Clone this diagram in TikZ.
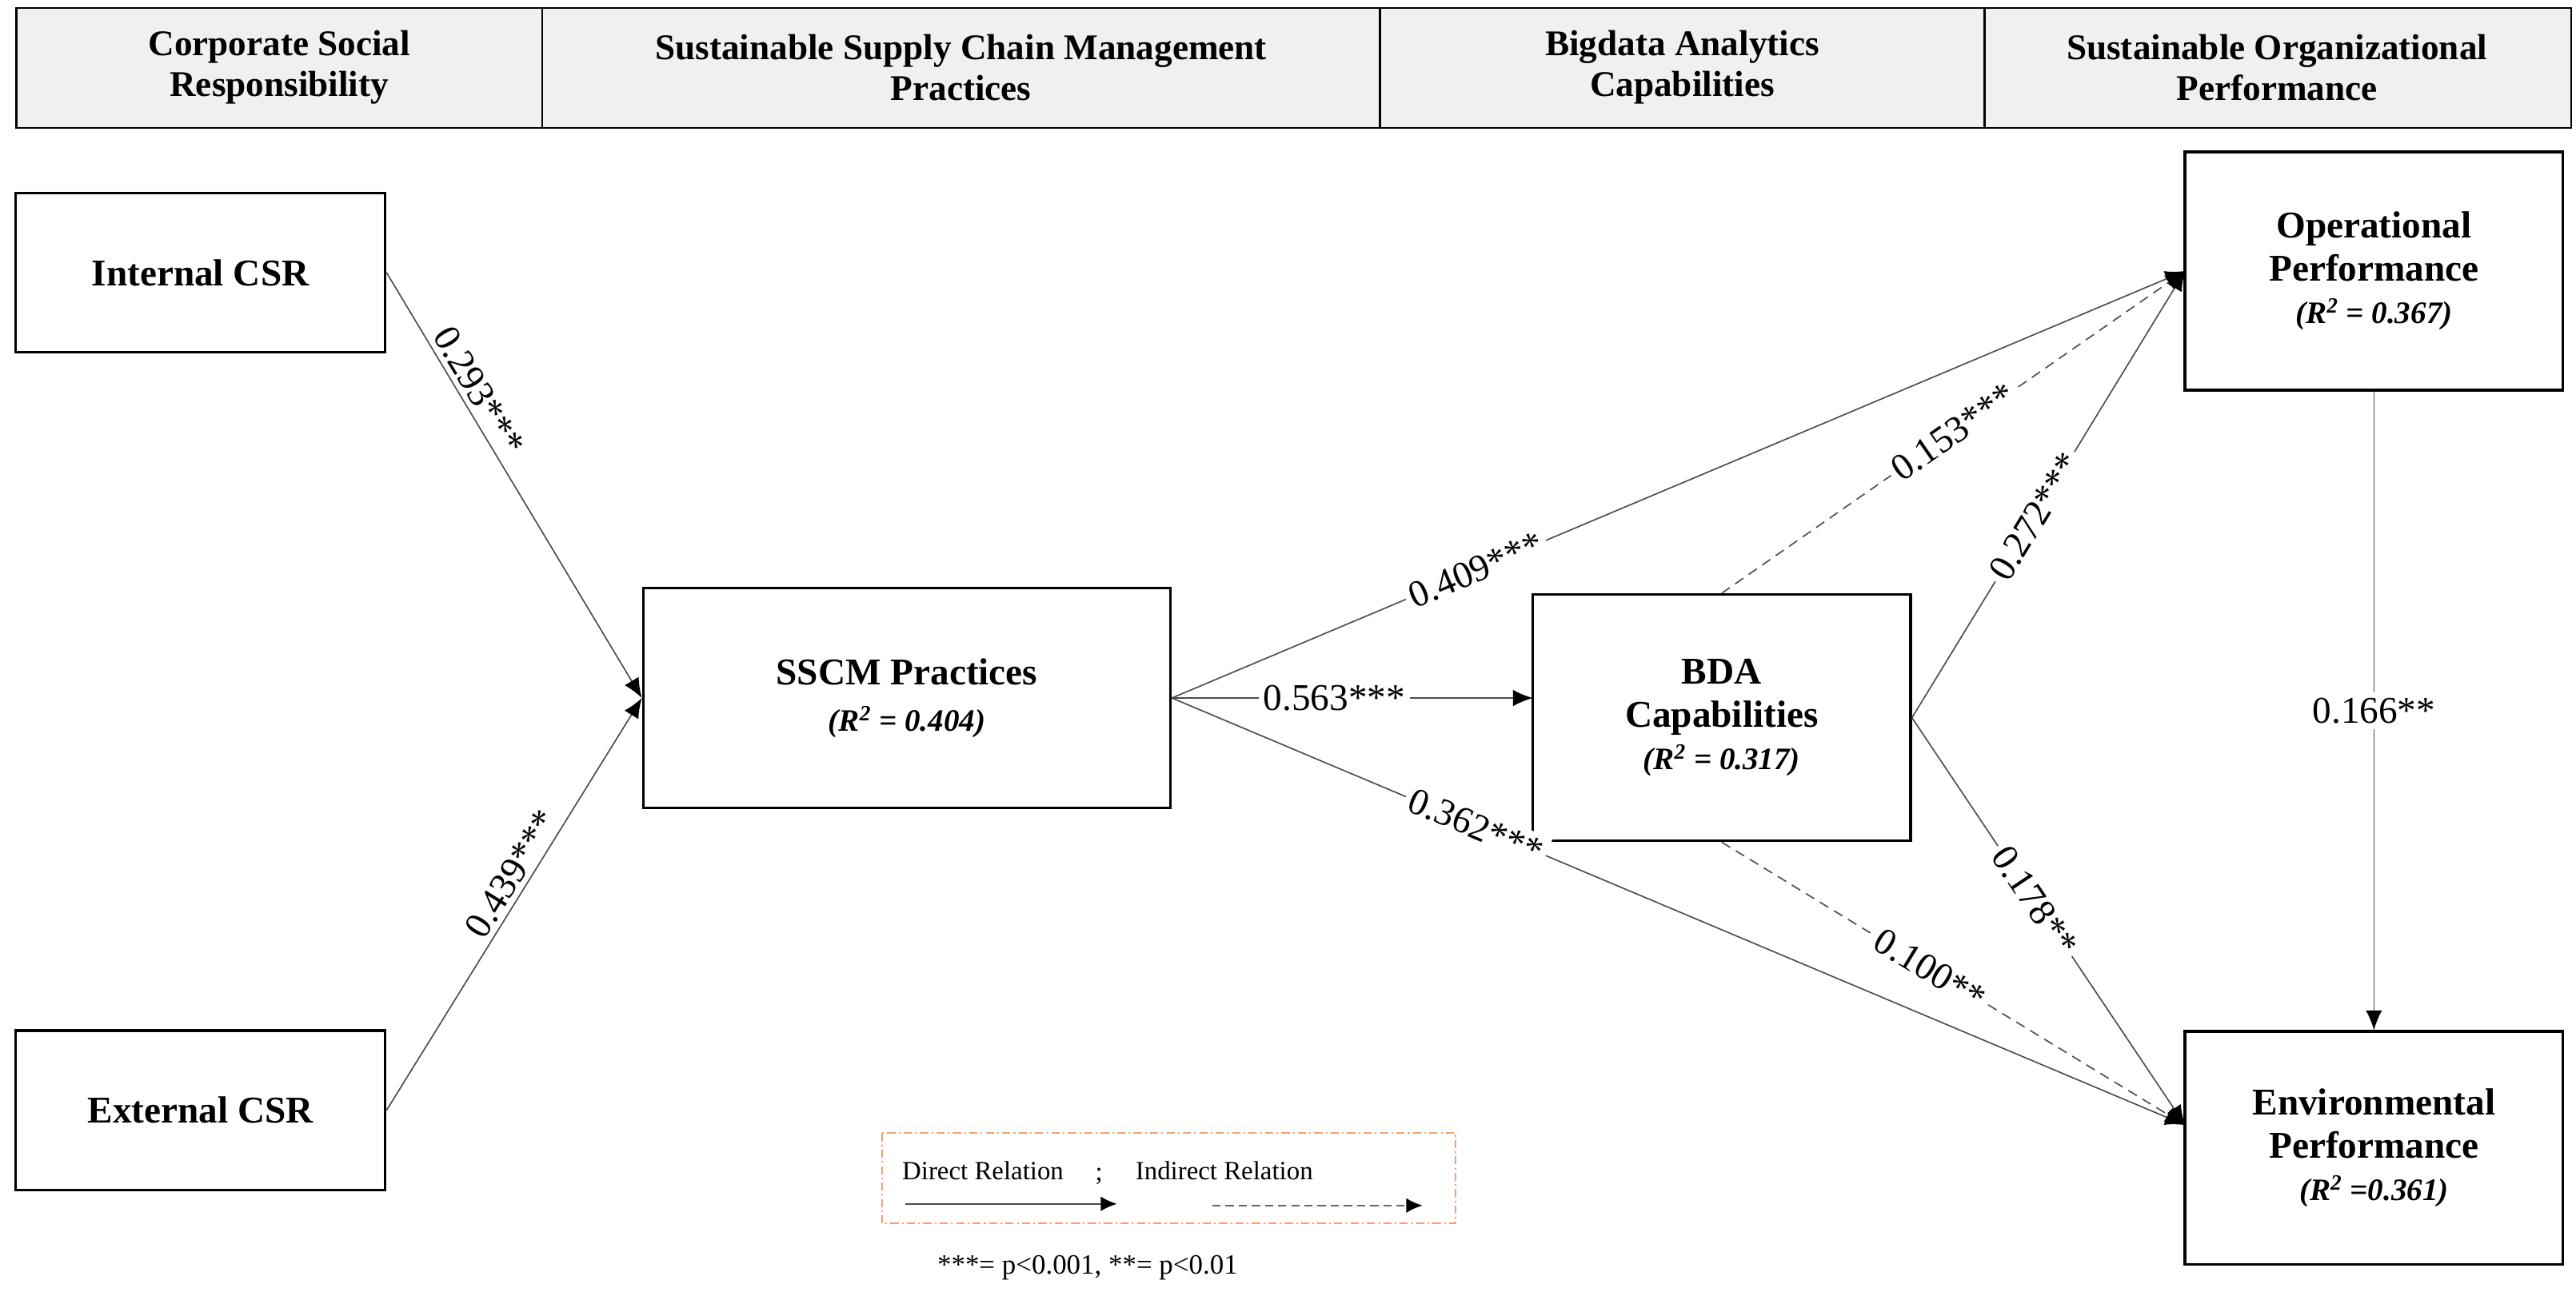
\documentclass[tikz,border=0pt]{standalone}
\usepackage{fontspec}
\setmainfont{Liberation Serif}
\usetikzlibrary{arrows.meta}
\definecolor{hdr}{HTML}{F0F0F0}
\definecolor{leg}{HTML}{F4A070}
\begin{document}
\begin{tikzpicture}[x=1pt,y=-1pt,
  box/.style={draw,line width=1.6pt,align=center,font=\fontsize{23}{26}\selectfont\bfseries,inner sep=2pt},
  arr/.style={line width=0.8pt,draw=black!70,-{Latex[length=12pt,width=10pt,black]}},
  darr/.style={arr,dash pattern=on 6pt off 4pt},
  lab/.style={sloped,fill=white,inner sep=3pt,font=\fontsize{23}{26}\selectfont},
  hd/.style={align=center,font=\fontsize{22}{25}\selectfont\bfseries}]
\useasboundingbox (0,0) rectangle (1568,789);
% header
\filldraw[fill=hdr,line width=1.2pt] (10,5) rectangle (1565,78);
\foreach \x in {330,840,1208} \draw[line width=1.2pt] (\x,5) -- (\x,78);
\node[hd] (h1) at (170,41) {Corporate Social\\Responsibility};
\node[hd] (h2) at (585,41) {Sustainable Supply Chain Management\\Practices};
\node[hd] (h3) at (1024,41) {Bigdata Analytics\\Capabilities};
\node[hd] (h4) at (1386,41) {Sustainable Organizational\\Performance};
% nodes
\node[box,minimum width=225,minimum height=97] (ic) at (122,166) {Internal CSR};
\node[box,minimum width=225,minimum height=97] (ec) at (122,676) {External CSR};
\node[box,minimum width=321,minimum height=134] (ss) at (552,425) {SSCM Practices\\[2pt]{\itshape\fontsize{19}{22}\selectfont (R\textsuperscript{2} = 0.404)}};
\node[box,minimum width=230,minimum height=150] (bd) at (1048,437) {BDA\\Capabilities\\{\itshape\fontsize{19}{22}\selectfont (R\textsuperscript{2} = 0.317)}};
\node[box,minimum width=230,minimum height=145] (op) at (1445,165) {Operational\\Performance\\{\itshape\fontsize{19}{22}\selectfont (R\textsuperscript{2} = 0.367)}};
\node[box,minimum width=230,minimum height=142] (ep) at (1445,699) {Environmental\\Performance\\{\itshape\fontsize{19}{22}\selectfont (R\textsuperscript{2} =0.361)}};
\coordinate (opw) at (1330,165);
\coordinate (epw) at (1330,685);
\coordinate (bdw) at (933,425);
% edges
\draw[arr] (ic.east) -- node[lab,above=0pt,fill=none,pos=0.3]{0.293***} (ss.west);
\draw[arr] (ec.east) -- node[lab,above=0pt,fill=none,pos=0.55]{0.439***} (ss.west);
\draw[arr] (ss.east) -- node[lab,pos=0.3]{0.409***} (opw);
\draw[arr] (ss.east) -- node[lab,pos=0.45]{0.563***} (bdw);
\draw[arr] (ss.east) -- node[lab,pos=0.3]{0.362***} (epw);
\draw[darr] (bd.north) -- node[lab,pos=0.5]{0.153***} (opw);
\draw[arr] (bd.east) -- node[lab,pos=0.45]{0.272***} (opw);
\draw[arr] (bd.east) -- node[lab,pos=0.45]{0.178**} (epw);
\draw[darr] (bd.south) -- node[lab,pos=0.45]{0.100**} (epw);
\draw[arr] (op.south) -- node[fill=white,font=\fontsize{23}{26}\selectfont]{0.166**} (ep.north);
% legend
\draw[leg,line width=1pt,dash pattern=on 5pt off 2pt on 1pt off 2pt] (537,690) rectangle (886,745);
\node[font=\fontsize{16}{18}\selectfont,anchor=west,inner sep=0pt] (l1) at (549,713) {Direct Relation};
\node[font=\fontsize{16}{18}\selectfont] (l2) at (669,716) {;};
\node[font=\fontsize{16}{18}\selectfont,anchor=west,inner sep=0pt] (l3) at (691,713) {Indirect Relation};
\coordinate (a1) at (551,733); \coordinate (a2) at (680,733);
\coordinate (b1) at (738,734); \coordinate (b2) at (866,734);
\draw[line width=1.2pt,draw=black!70,-{Latex[length=10pt,width=9pt,black]}] (a1) -- (a2);
\draw[line width=1.2pt,draw=black!60,dash pattern=on 5pt off 3pt,-{Latex[length=10pt,width=9pt,black]}] (b1) -- (b2);
\node[font=\fontsize{17}{19}\selectfont] (fn) at (662,772) {***= p<0.001, **= p<0.01};
\end{tikzpicture}
\end{document}
